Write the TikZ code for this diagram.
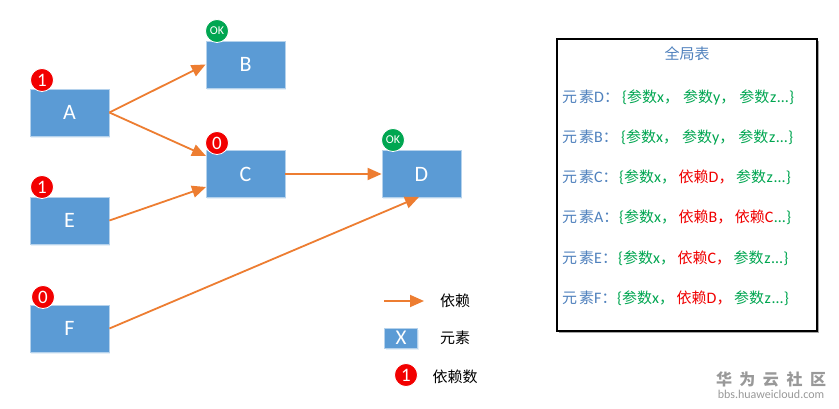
\documentclass[tikz,border=0pt]{standalone}
\usepackage{fontspec}
\setmainfont{Carlito}
\newfontfamily\cjk{Noto Sans CJK SC}
\usetikzlibrary{arrows.meta,shadows}
\definecolor{boxblue}{HTML}{5B9BD5}
\definecolor{edgeorange}{HTML}{ED7D31}
\definecolor{labelblue}{HTML}{4F81BD}
\definecolor{tablegreen}{HTML}{00A651}
\definecolor{okgreen}{HTML}{00A651}
\definecolor{depred}{HTML}{F00000}
\newcommand{\zh}[1]{{\cjk\fontsize{15}{16}\selectfont #1}}
\newcommand{\gr}[1]{\textcolor{tablegreen}{#1}}
\newcommand{\rd}[1]{\textcolor{depred}{#1}}
\newcommand{\cmA}{\zh{，}\hspace{4pt}}
\newcommand{\cmB}{\zh{，}\hspace{2.5pt}}
\newcommand{\tailz}{\hspace{.7pt}z\hspace{1pt}…\hspace{.7pt}\}}
\tikzset{
  elem/.style={fill=boxblue,draw=boxblue!45!white,line width=0.8pt,minimum width=79pt,minimum height=47pt,inner sep=0pt,text=white,font=\fontsize{22}{22}\selectfont,drop shadow={shadow xshift=1pt,shadow yshift=-2pt,opacity=.15,fill=boxblue}},
  badge/.style={circle,draw=white,line width=0.8pt,minimum size=23pt,inner sep=0pt,text=white,fill=red!95!black},
  numbadge/.style={badge,font=\fontsize{19}{19}\selectfont},
  okbadge/.style={badge,fill=okgreen,font=\fontsize{12}{12}\selectfont},
  dep/.style={draw=edgeorange,line width=1.8pt,-{Triangle[length=14pt,width=12pt]}},
  rowlabel/.style={anchor=west,inner sep=0pt,text=labelblue,font=\fontsize{16}{16}\selectfont},
  rowval/.style={anchor=west,inner sep=0pt,font=\fontsize{16}{16}\selectfont},
  legend/.style={inner sep=0pt,text=black},
}
\begin{document}
\begin{tikzpicture}[x=1pt,y=-1pt]
\useasboundingbox (0,0) rectangle (839,409);
\fill[white] (0,0) rectangle (839,409);
% elements
\node[elem] (A) at (69.5,112.5) {A};
\node[elem] (B) at (245.5,64.5) {B};
\node[elem] (C) at (245.5,174) {C};
\node[elem] (D) at (421.5,174) {D};
\node[elem] (E) at (69.5,220.5) {E};
\node[elem] (F) at (69.5,328.5) {F};
% connector ends
\coordinate (AC) at (206,156);
\coordinate (EC) at (206,187);
\coordinate (FD) at (419,197);
\draw[dep] (A.east) -- (B.west);
\draw[dep] (A.east) -- (AC);
\draw[dep] (E.east) -- (EC);
\draw[dep] (C.east) -- (D.west);
\draw[dep] (F.east) -- (FD);
% badges
\node[numbadge] (bA) at (42,80) {1};
\node[okbadge] (bB) at (217,31) {OK};
\node[numbadge] (bC) at (217,143) {0};
\node[okbadge] (bD) at (393,140) {OK};
\node[numbadge] (bE) at (42,187) {1};
\node[numbadge] (bF) at (43,297) {0};
% table
\fill[black!35] (559,41) rectangle (819,333);
\node[draw=black,line width=1.3pt,fill=white,minimum width=260pt,minimum height=292pt,inner sep=0pt] (table) at (687,185) {};
\node[inner sep=0pt,text=labelblue] (title) at (687,54) {\zh{全局表}};
\node[rowlabel] (l1) at (562,97) {\zh{元\hspace{2pt}素}D\zh{：}};
\node[rowval] (v1) at (622,97) {\gr{\{\zh{参数}x\cmA\zh{参数}y\cmA\zh{参数}\tailz}};
\node[rowlabel] (l2) at (562,137) {\zh{元\hspace{2pt}素}B\zh{：}};
\node[rowval] (v2) at (621,137) {\gr{\{\zh{参数}x\cmA\zh{参数}y\cmA\zh{参数}\tailz}};
\node[rowlabel] (l3) at (562,177) {\zh{元\hspace{2pt}素}C\zh{：}};
\node[rowval] (v3) at (619,177) {\gr{\{\zh{参数}x\cmB}\rd{\zh{依赖}D\cmB}\gr{\zh{参数}\tailz}};
\node[rowlabel] (l4) at (562,217) {\zh{元\hspace{2pt}素}A\zh{：}};
\node[rowval] (v4) at (619,217) {\gr{\{\zh{参数}x\cmB}\rd{\zh{依赖}B\cmB}\rd{\zh{依赖}C}\gr{\hspace{1pt}…\hspace{.7pt}\}}};
\node[rowlabel] (l5) at (562,258) {\zh{元\hspace{2pt}素}E\zh{：}};
\node[rowval] (v5) at (618,258) {\gr{\{\zh{参数}x\cmB}\rd{\zh{依赖}C\cmB}\gr{\zh{参数}\tailz}};
\node[rowlabel] (l6) at (562,298) {\zh{元\hspace{2pt}素}F\zh{：}};
\node[rowval] (v6) at (617,298) {\gr{\{\zh{参数}x\cmB}\rd{\zh{依赖}D\cmB}\gr{\zh{参数}\tailz}};
% legend
\coordinate (ls) at (384,301);
\coordinate (le) at (424,301);
\draw[dep] (ls) -- (le);
\node[legend] (t1) at (455,301) {\zh{依赖}};
\node[fill=boxblue,draw=boxblue!45!white,line width=.8pt,minimum width=33pt,minimum height=20pt,inner sep=0pt,text=white,font=\fontsize{21}{21}\selectfont,drop shadow={shadow xshift=1pt,shadow yshift=-2pt,opacity=.15,fill=boxblue}] (lx) at (401,338) {X};
\node[legend] (t2) at (455,338) {\zh{元素}};
\node[numbadge] (lb) at (406,375) {1};
\node[legend] (t3) at (455,377) {\zh{依赖数}};
% watermark
\node[inner sep=0pt,text=black!40] (wm1) at (771,379) {\cjk\bfseries\fontsize{16}{16}\selectfont 华\hspace{7.5pt}为\hspace{7.5pt}云\hspace{7.5pt}社\hspace{7.5pt}区};
\node[inner sep=0pt,text=black!40] (wm2) at (771,394) {\fontsize{12}{12}\selectfont bbs.huaweicloud.com};
\end{tikzpicture}
\end{document}
